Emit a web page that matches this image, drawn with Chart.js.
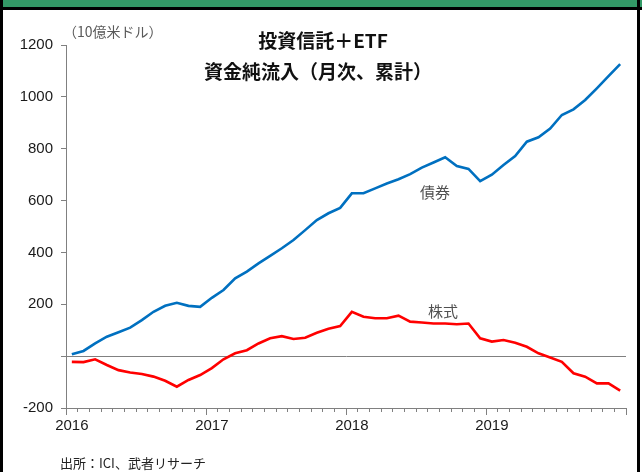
<!DOCTYPE html>
<html>
<head>
<meta charset="utf-8">
<script src="https://cdn.jsdelivr.net/npm/chart.js@4.4.1/dist/chart.umd.min.js"></script>
<style>
html,body{margin:0;padding:0;background:#fff;}
#wrap{position:relative;width:642px;height:472px;overflow:hidden;background:#fff;}
#c{position:absolute;left:0;top:0;}
#topbar{position:absolute;left:0;top:0;width:642px;height:7px;background:#339966;}
#topline{position:absolute;left:0;top:7px;width:642px;height:3px;background:#000;}
#lline{position:absolute;left:0;top:0;width:3px;height:472px;background:#000;}
#rline{position:absolute;left:637px;top:0;width:3px;height:472px;background:#000;}
</style>
</head>
<body>
<div id="wrap">
<canvas id="c" width="642" height="472"></canvas>
<div id="topbar"></div><div id="topline"></div><div id="lline"></div><div id="rline"></div>
</div>
<script>
// ---- data (billion USD, cumulative monthly net inflow, Jan 2016 - Dec 2019) ----
const years = ['2016','2017','2018','2019'];
const months = [];
for (let y = 0; y < years.length; y++) { for (let m = 0; m < 12; m++) { months.push(m === 0 ? years[y] : ''); } }
const bonds = [7,20,49,75,92,110,139,171,194,206,194,190,
               225,255,300,326,358,387,416,448,486,525,551,572,
               628,628,647,666,682,702,727,747,767,733,722,675,
               700,737,772,827,844,878,930,952,988,1033,1080,1126];
const stocks = [-22,-23,-12,-34,-54,-63,-69,-79,-95,-118,-92,-73,
                -46,-12,11,23,49,69,77,66,71,90,106,116,
                171,152,146,146,156,133,130,126,126,123,126,69,
                56,62,52,36,11,-5,-22,-66,-79,-105,-105,-133];
const yTicks = [-200,0,200,400,600,800,1000,1200];
const seriesNames = ['債券','株式'];
const titleLines = ['投資信託＋ETF','資金純流入（月次、累計）'];
const unitLabel = '（10億米ドル）';
const sourceLabel = '出所：ICI、武者リサーチ';

const JP = '"Noto Sans CJK JP", sans-serif';
const LAT = '"Liberation Sans", Arial, sans-serif';

const textPlugin = {
  id: 'texts',
  afterDraw(chart) {
    const ctx = chart.ctx;
    const xs = chart.scales.x;
    const area = chart.chartArea;
    // longer year ticks
    const step = xs.getPixelForValue(1) - xs.getPixelForValue(0);
    ctx.save();
    ctx.strokeStyle = '#808080';
    ctx.lineWidth = 1;
    months.forEach((lab, i) => {
      if (lab) {
        const x = Math.round(xs.getPixelForValue(i) - step / 2) + 0.5;
        ctx.beginPath(); ctx.moveTo(x, area.bottom); ctx.lineTo(x, area.bottom + 7); ctx.stroke();
      }
    });
    const xe = Math.round(xs.getPixelForValue(months.length - 1) + step / 2) + 0.5;
    ctx.beginPath(); ctx.moveTo(xe, area.bottom); ctx.lineTo(xe, area.bottom + 7); ctx.stroke();

    ctx.textBaseline = 'middle';
    ctx.textAlign = 'center';
    ctx.fillStyle = '#111';
    ctx.font = 'bold 19px ' + JP;
    ctx.fillText(titleLines[0], 323, 41);
    ctx.fillText(titleLines[1], 318, 72);

    ctx.textAlign = 'left';
    ctx.fillStyle = '#595959';
    ctx.font = '14px ' + JP;
    ctx.fillText(unitLabel, 63, 32);

    ctx.font = '15px ' + JP;
    ctx.textAlign = 'center';
    ctx.fillStyle = '#505050';
    ctx.fillText(seriesNames[0], 435, 192);
    ctx.fillText(seriesNames[1], 443, 311);

    ctx.textAlign = 'left';
    ctx.fillStyle = '#222';
    ctx.font = '13px ' + JP;
    ctx.fillText(sourceLabel, 60, 463);
    ctx.restore();
  }
};

new Chart(document.getElementById('c'), {
  type: 'line',
  data: {
    labels: months,
    datasets: [
      { label: seriesNames[0], data: bonds, borderColor: '#0070C0', borderWidth: 2.6, pointRadius: 0, tension: 0, fill: false },
      { label: seriesNames[1], data: stocks, borderColor: '#FF0000', borderWidth: 2.6, pointRadius: 0, tension: 0, fill: false }
    ]
  },
  options: {
    responsive: false,
    animation: false,
    events: [],
    layout: { padding: { left: 0, right: 16, top: 45, bottom: 0 } },
    plugins: { legend: { display: false }, tooltip: { enabled: false }, title: { display: false } },
    scales: {
      x: {
        type: 'category',
        offset: true,
        afterFit(s) { s.height = 64; },
        grid: { offset: true, drawOnChartArea: false, drawTicks: true, tickLength: 4, color: '#808080', tickColor: '#808080' },
        border: { display: true, color: '#808080', width: 1 },
        ticks: {
          autoSkip: false, maxRotation: 0, minRotation: 0, padding: 5,
          color: '#1a1a1a', font: { family: LAT, size: 15 },
          callback(v, i) { return months[i]; }
        }
      },
      y: {
        min: yTicks[0], max: yTicks[yTicks.length - 1],
        afterFit(s) { s.width = 66; },
        afterBuildTicks(s) { s.ticks = yTicks.map(v => ({ value: v })); },
        grid: {
          drawOnChartArea: true, drawTicks: true, tickLength: 5,
          color: (c) => (c.tick && c.tick.value === 0) ? '#808080' : 'rgba(0,0,0,0)',
          tickColor: '#808080'
        },
        border: { display: true, color: '#808080', width: 1 },
        ticks: {
          padding: 8, color: '#1a1a1a', font: { family: LAT, size: 15 },
          callback(v) { return v === 0 ? '' : String(v); }
        }
      }
    }
  },
  plugins: [textPlugin]
});
</script>
</body>
</html>
